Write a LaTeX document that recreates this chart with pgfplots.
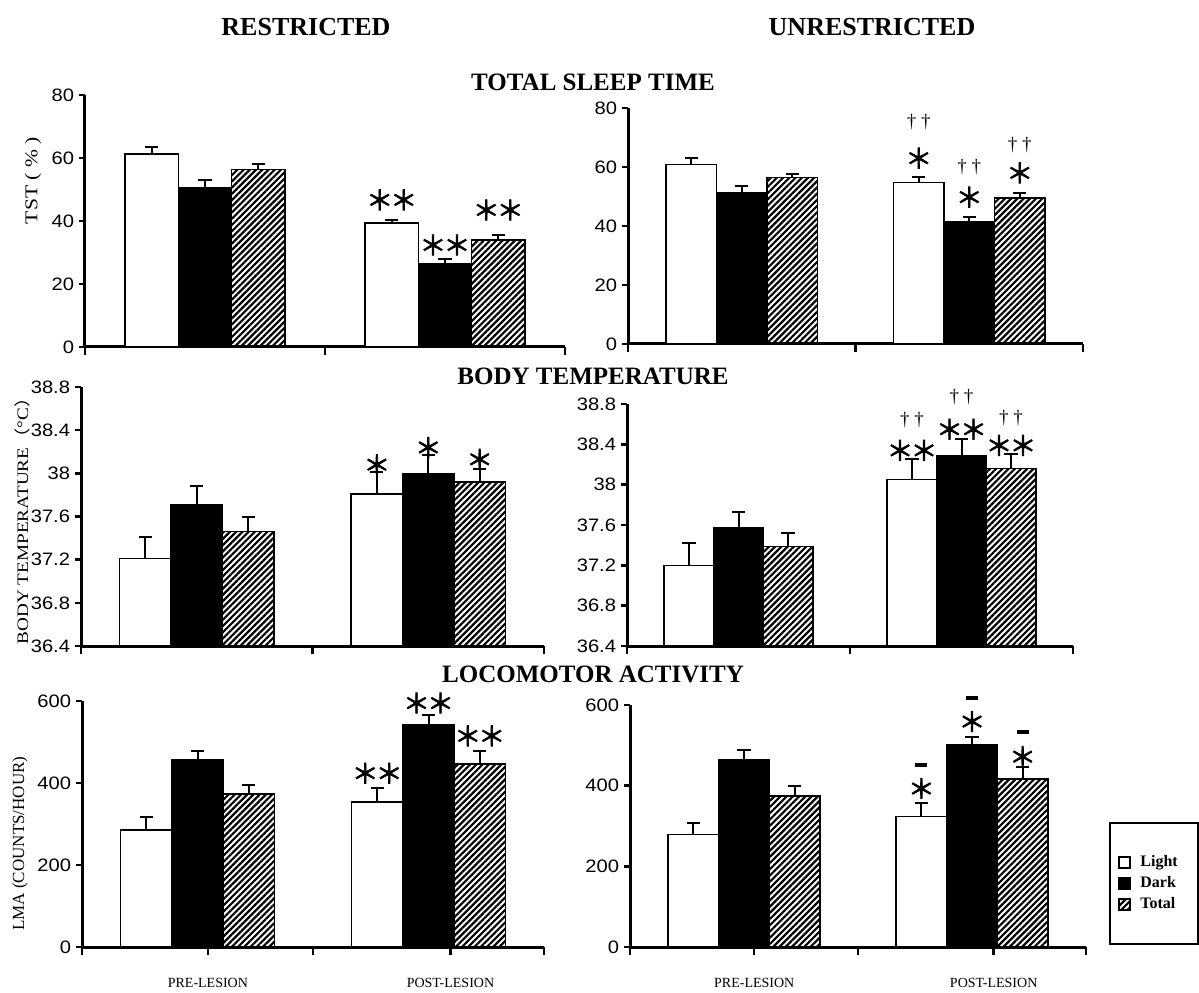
\documentclass[border=0pt]{standalone}
\usepackage{fontspec}
\setmainfont{Liberation Serif}
\newfontfamily\ticksf{Liberation Sans}[FakeStretch=1.12]
\newfontfamily\cjk{Noto Sans CJK SC}
\newfontfamily\cjkb{Noto Sans CJK SC}[FakeBold=2.5]
\usepackage{graphicx}
\usepackage{pgfplots}
\pgfplotsset{compat=1.18}
\usetikzlibrary{patterns.meta}

\newcommand{\sone}{{\cjkb\fontsize{13.5}{14}\selectfont ＊}}
\newcommand{\stwo}{{\cjkb\fontsize{13.5}{14}\selectfont ＊\kern-1.5pt＊}}
\newcommand{\dd}{{\fontsize{9.5}{10}\selectfont † †}}
\newcommand{\dsh}{\rule{6pt}{2pt}}

\pgfplotsset{
  panel/.style={
    scale only axis, clip mode=individual,
    xmin=0, xmax=2, xtick={0,1,2}, xticklabels={},
    axis x line*=bottom, axis y line*=left,
    axis line style={-, line width=1.5pt},
    tick align=outside,
    major tick style={line width=1.2pt, black},
    xtick style={/pgfplots/major tick length=4pt},
    ytick style={/pgfplots/major tick length=2.8pt},
    tick label style={font=\ticksf\fontsize{9}{10}\selectfont},
    yticklabel style={inner sep=1pt},
    /pgf/number format/assume math mode=true,
    ybar, bar shift=0pt, bar width=0.222,
  },
  cats/.style={
    extra x ticks={0.545,1.595},
    extra x tick labels={PRE-LESION,POST-LESION},
    extra x tick style={/pgfplots/major tick length=0pt,
      tick label style={font=\rmfamily\fontsize{7}{8}\selectfont, yshift=-12pt}},
  },
  eb/.style={error bars/.cd, y dir=plus, y explicit,
    error bar style={line width=1pt, black},
    error mark options={rotate=90, mark size=3.3pt, line width=1pt, black}},
  light/.style={draw=black, fill=white, line width=0.8pt},
  dark/.style={draw=black, fill=black, line width=0.8pt},
  total/.style={draw=black, line width=0.8pt,
    pattern={Lines[angle=45,distance=2.2pt,line width=1.1pt]}},
  ylab/.style 2 args={every axis y label/.style={at={(rel axis cs:0,#2)},
    xshift=#1, rotate=90, anchor=center}},
}

\begin{document}
\begin{tikzpicture}
\path[use as bounding box] (0,0) rectangle (599.5pt,496pt);

\node[font=\bfseries\fontsize{13}{15}\selectfont] at (153pt,482.5pt) {RESTRICTED};
\node[font=\bfseries\fontsize{13}{15}\selectfont] at (436pt,482.5pt) {UNRESTRICTED};
\node[font=\bfseries\fontsize{12.5}{14}\selectfont] at (296.5pt,455pt) {TOTAL SLEEP TIME};
\node[font=\bfseries\fontsize{12.5}{14}\selectfont] at (296.5pt,308pt) {BODY TEMPERATURE};
\node[font=\bfseries\fontsize{12.5}{14}\selectfont] at (296.5pt,159pt) {LOCOMOTOR ACTIVITY};

% ---------- TST restricted
\begin{axis}[panel, at={(42.5pt,322.5pt)}, anchor=south west,
  width=240pt, height=126pt, ymin=0, ymax=80, ytick={0,20,40,60,80},
  ylab={-26pt}{0.66},
  ylabel={\scalebox{1.2}[1]{\fontsize{9}{10}\selectfont TST ( \% )}}]
\addplot[light, eb] coordinates {(0.278,61.3) +- (0,2.1) (1.278,39.4) +- (0,1.0)};
\addplot[dark, eb] coordinates {(0.5,50.4) +- (0,2.7) (1.5,26.3) +- (0,1.7)};
\addplot[total, eb] coordinates {(0.722,56.4) +- (0,1.6) (1.722,33.9) +- (0,1.7)};
\node at (axis cs:1.278,46.7) {\stwo};
\node at (axis cs:1.5,32.4) {\stwo};
\node at (axis cs:1.722,43.5) {\stwo};
\end{axis}

% ---------- TST unrestricted
\begin{axis}[panel, at={(314pt,324pt)}, anchor=south west,
  width=227.5pt, height=118pt, ymin=0, ymax=80, ytick={0,20,40,60,80}]
\addplot[light, eb] coordinates {(0.278,60.9) +- (0,2.2) (1.278,54.8) +- (0,1.7)};
\addplot[dark, eb] coordinates {(0.5,51.2) +- (0,2.5) (1.5,41.4) +- (0,1.5)};
\addplot[total, eb] coordinates {(0.722,56.5) +- (0,1.2) (1.722,49.5) +- (0,1.6)};
\node at (axis cs:1.278,63.0) {\sone};
\node at (axis cs:1.278,75.2) {\dd};
\node at (axis cs:1.5,49.8) {\sone};
\node at (axis cs:1.5,60.0) {\dd};
\node at (axis cs:1.722,58.0) {\sone};
\node at (axis cs:1.722,67.5) {\dd};
\end{axis}

% ---------- BT restricted
\begin{axis}[panel, at={(40.5pt,173pt)}, anchor=south west,
  width=231.5pt, height=129.5pt, ymin=36.4, ymax=38.8,
  ytick={36.4,36.8,37.2,37.6,38,38.4,38.8},
  ylab={-29.5pt}{0.5},
  ylabel={\scalebox{1.2}[1]{\fontsize{8}{9}\selectfont BODY TEMPERATURE{\cjk （}°C{\cjk ）}}}]
\addplot[light, eb] coordinates {(0.278,37.21) +- (0,0.20) (1.278,37.81) +- (0,0.20)};
\addplot[dark, eb] coordinates {(0.5,37.71) +- (0,0.17) (1.5,38.00) +- (0,0.17)};
\addplot[total, eb] coordinates {(0.722,37.46) +- (0,0.14) (1.722,37.92) +- (0,0.12)};
\node at (axis cs:1.278,38.08) {\sone};
\node at (axis cs:1.5,38.24) {\sone};
\node at (axis cs:1.722,38.13) {\sone};
\end{axis}

% ---------- BT unrestricted
\begin{axis}[panel, at={(313.5pt,173pt)}, anchor=south west,
  width=223pt, height=121pt, ymin=36.4, ymax=38.8,
  ytick={36.4,36.8,37.2,37.6,38,38.4,38.8}]
\addplot[light, eb] coordinates {(0.278,37.20) +- (0,0.22) (1.278,38.05) +- (0,0.20)};
\addplot[dark, eb] coordinates {(0.5,37.57) +- (0,0.16) (1.5,38.29) +- (0,0.16)};
\addplot[total, eb] coordinates {(0.722,37.385) +- (0,0.135) (1.722,38.16) +- (0,0.14)};
\node at (axis cs:1.278,38.34) {\stwo};
\node at (axis cs:1.278,38.64) {\dd};
\node at (axis cs:1.5,38.55) {\stwo};
\node at (axis cs:1.5,38.87) {\dd};
\node at (axis cs:1.722,38.39) {\stwo};
\node at (axis cs:1.722,38.66) {\dd};
\end{axis}

% ---------- LMA restricted
\begin{axis}[panel, cats, at={(41pt,22.5pt)}, anchor=south west,
  width=231pt, height=123pt, ymin=0, ymax=600, ytick={0,200,400,600},
  ylab={-31pt}{0.42},
  ylabel={\fontsize{8.5}{9}\selectfont LMA (COUNTS/HOUR)}]
\addplot[light, eb] coordinates {(0.278,286) +- (0,30) (1.278,353) +- (0,36)};
\addplot[dark, eb] coordinates {(0.5,457) +- (0,20) (1.5,543) +- (0,24)};
\addplot[total, eb] coordinates {(0.722,373) +- (0,21) (1.722,447) +- (0,30)};
\node at (axis cs:1.278,424) {\stwo};
\node at (axis cs:1.5,595) {\stwo};
\node at (axis cs:1.722,515) {\stwo};
\end{axis}

% ---------- LMA unrestricted
\begin{axis}[panel, cats, at={(315pt,22.5pt)}, anchor=south west,
  width=228pt, height=121pt, ymin=0, ymax=600, ytick={0,200,400,600},
  legend image code/.code={\draw[#1, line width=1pt] (0pt,-2.75pt) rectangle (5.5pt,2.75pt);},
  legend cell align=left,
  legend style={draw=none, fill=none, at={(rel axis cs:1.0702,0.3946)}, anchor=north west,
    inner sep=0pt, row sep=0pt,
    nodes={inner sep=0pt, minimum height=10.5pt, font=\bfseries\fontsize{8}{9}\selectfont},
    /tikz/every odd column/.append style={column sep=4.5pt}}]
\addplot[light, eb] coordinates {(0.278,279) +- (0,28) (1.278,324) +- (0,33)};
\addlegendentry{Light}
\addplot[dark, eb] coordinates {(0.5,465) +- (0,24) (1.5,502) +- (0,19)};
\addlegendentry{Dark}
\addplot[total, eb] coordinates {(0.722,374) +- (0,24) (1.722,416) +- (0,31)};
\addlegendentry{Total}
\node at (axis cs:1.278,393) {\sone};
\node at (axis cs:1.278,451) {\dsh};
\node at (axis cs:1.5,559) {\sone};
\node at (axis cs:1.5,617) {\dsh};
\node at (axis cs:1.722,472) {\sone};
\node at (axis cs:1.722,534) {\dsh};
\end{axis}

\draw[line width=1pt] (555pt,24pt) rectangle (599pt,84.5pt);
\end{tikzpicture}
\end{document}
